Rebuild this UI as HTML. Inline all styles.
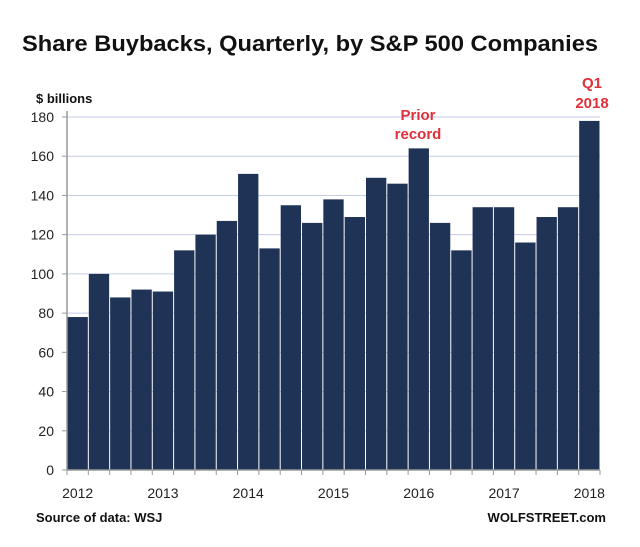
<!DOCTYPE html>
<html><head><meta charset="utf-8"><style>
body{margin:0;background:#fff;width:640px;height:542px;overflow:hidden;font-family:"Liberation Sans",sans-serif}
</style></head><body>
<svg id="chart" width="640" height="542" xmlns="http://www.w3.org/2000/svg" font-family="Liberation Sans, sans-serif">
<text x="22" y="51" font-size="22" font-weight="bold" fill="#111" textLength="576" lengthAdjust="spacingAndGlyphs">Share Buybacks, Quarterly, by S&amp;P 500 Companies</text>
<text x="36" y="103" font-size="13" font-weight="bold" fill="#111">$ billions</text>
<g id="grid"></g><g id="bars"></g><g id="axes"></g>
<text x="418" y="120" font-size="15" font-weight="bold" fill="#e0303a" text-anchor="middle">Prior</text>
<text x="418" y="139" font-size="15" font-weight="bold" fill="#e0303a" text-anchor="middle">record</text>
<text x="592" y="88" font-size="15" font-weight="bold" fill="#e0303a" text-anchor="middle">Q1</text>
<text x="592" y="108" font-size="15" font-weight="bold" fill="#e0303a" text-anchor="middle">2018</text>
<text x="36" y="522" font-size="13" font-weight="bold" fill="#111">Source of data: WSJ</text>
<text x="606" y="522" font-size="13" font-weight="bold" fill="#111" text-anchor="end">WOLFSTREET.com</text>
</svg>
<script>
const values=[78,100,88,92,91,112,120,127,151,113,135,126,138,129,149,146,164,126,112,134,134,116,129,134,178];
const yTicks=[0,20,40,60,80,100,120,140,160,180];
const yearLabels=["2012","2013","2014","2015","2016","2017","2018"];
const NS="http://www.w3.org/2000/svg";
const x0=67,x1=600,yTop=117,yBot=470,maxV=180;
const bw=(x1-x0)/values.length;
const y=v=>yBot-(v/maxV)*(yBot-yTop);
const xb=i=>x0+i*bw;
function mk(tag,attrs,parent){const e=document.createElementNS(NS,tag);for(const k in attrs)e.setAttribute(k,attrs[k]);document.getElementById(parent).appendChild(e);return e;}
yTicks.forEach(t=>{
  if(t>0){const g=mk('line',{x1:x0,x2:x1,y1:y(t),y2:y(t),stroke:'#c5cde6','stroke-width':1},'grid');
  
  }
  const tk=mk('line',{x1:x0-5,x2:x0,y1:y(t),y2:y(t),stroke:'#999'},'axes');
  
  
  const l=mk('text',{x:x0-13,y:y(t)+5,'font-size':14,'text-anchor':'end',fill:'#222'},'axes');l.textContent=t;
  
  
});
values.forEach((v,i)=>{
  const r=mk('rect',{x:xb(i)+0.5,y:y(v),width:bw-1,height:yBot-y(v),fill:'#1f3357'},'bars');
  
  
});
const ax=mk('line',{x1:x0,x2:x0,y1:yTop-6,y2:yBot,stroke:'#999','stroke-width':1.5},'axes');


const bx=mk('line',{x1:x0,x2:x1,y1:yBot,y2:yBot,stroke:'#999','stroke-width':1.5},'axes');


for(let i=0;i<=values.length;i++){
  const t=mk('line',{x1:xb(i),x2:xb(i),y1:yBot,y2:yBot+5,stroke:'#999'},'axes');
  
  
}
yearLabels.forEach((s,k)=>{
  const l=mk('text',{x:xb(k*4)+bw/2,y:yBot+28,'font-size':14,'text-anchor':'middle',fill:'#222'},'axes');l.textContent=s;
  
  
});
</script>
</body></html>
